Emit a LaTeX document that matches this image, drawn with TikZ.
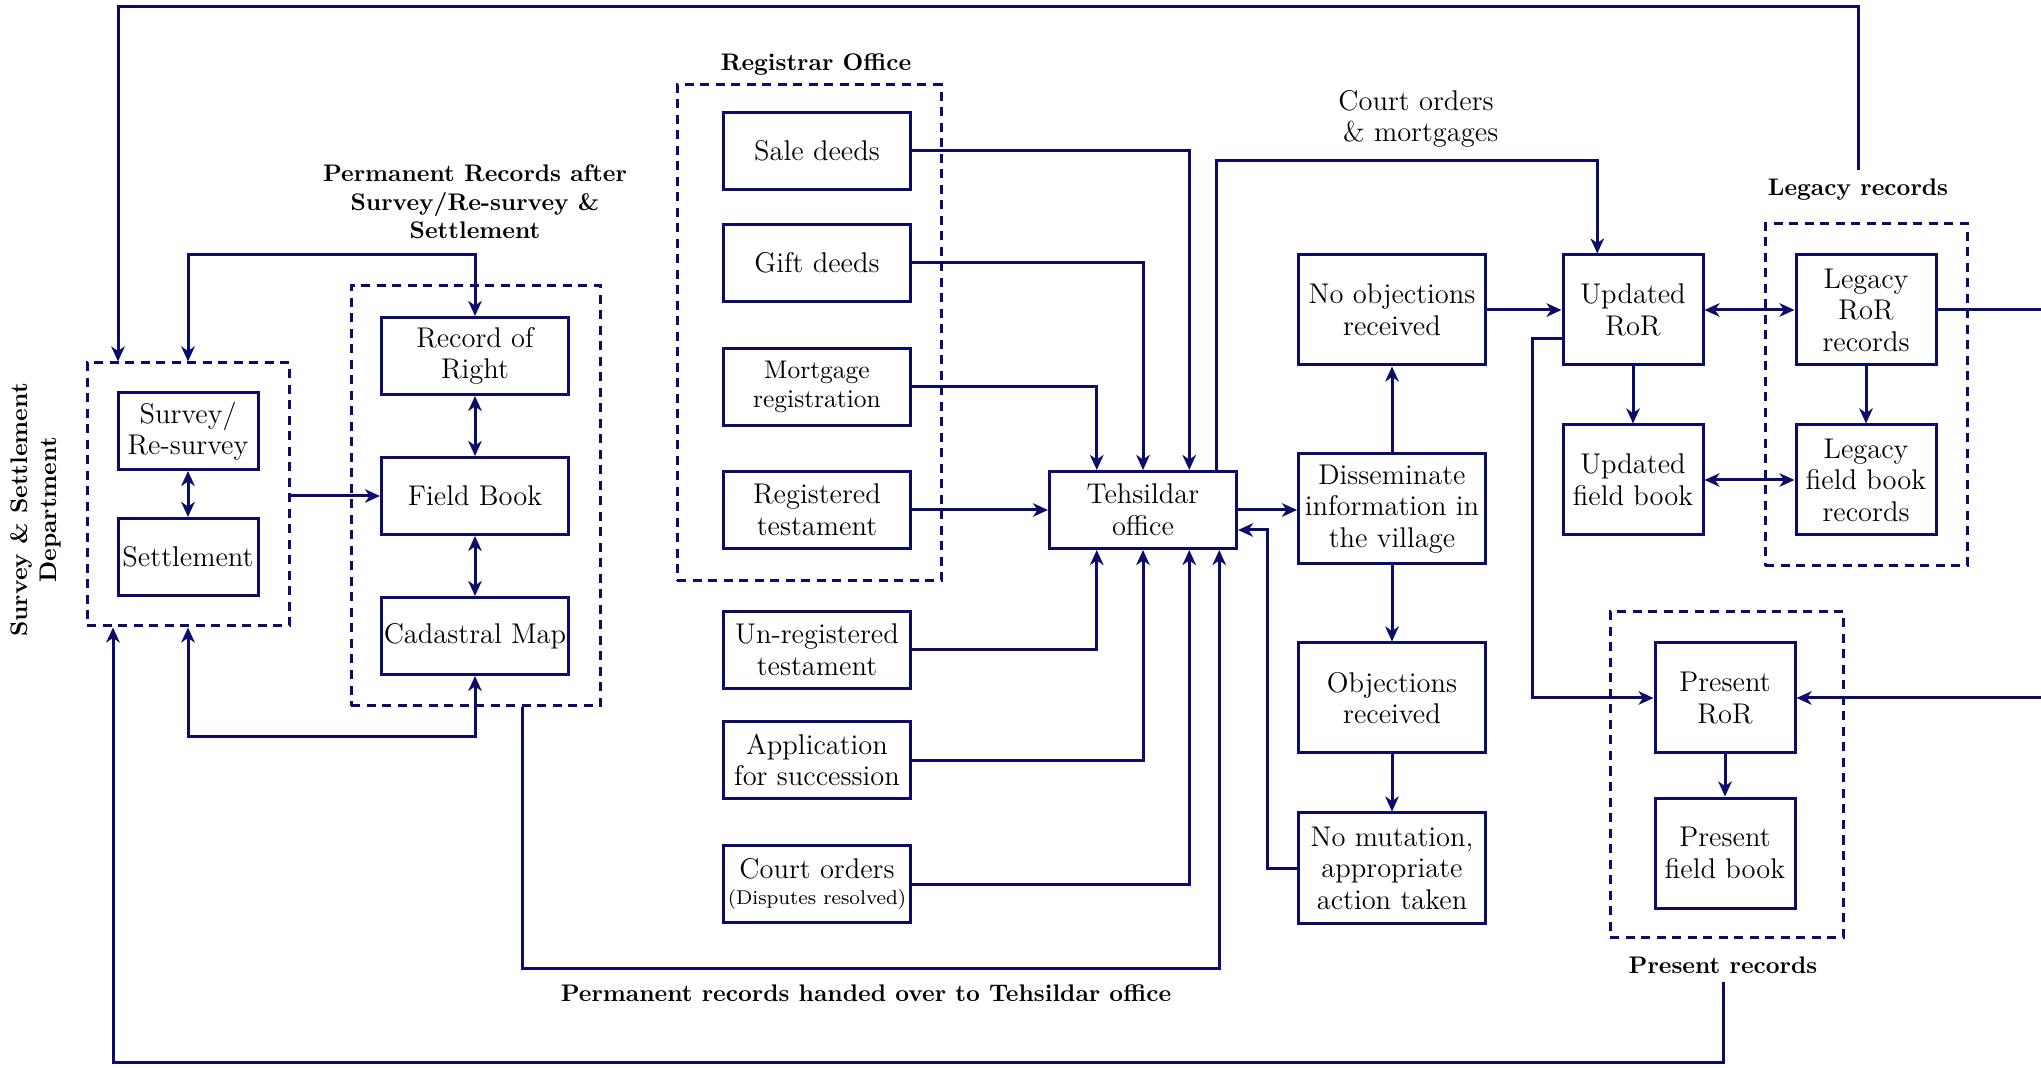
\documentclass[tikz,border=0pt]{standalone}
\usepackage{tikz}
\usetikzlibrary{arrows.meta,positioning}
\definecolor{navyline}{RGB}{12,12,108}

\begin{document}
\begin{tikzpicture}[x=40pt,y=-40pt,
	box/.style={draw=navyline,line width=1.2pt,fill=white,align=center,inner sep=1pt,
		minimum width=74.8pt,minimum height=30.8pt,font=\fontsize{11.4}{12.6}\selectfont},
	nbox/.style={box,minimum width=56pt},
	tbox/.style={box,minimum height=44pt},
	ntbox/.style={box,minimum width=56pt,minimum height=44pt},
	grp/.style={draw=navyline,line width=1.2pt,dash pattern=on 3.6pt off 2.6pt,inner sep=0pt},
	lab/.style={font=\fontsize{9.6}{11.4}\selectfont\bfseries,align=center},
	arr/.style={draw=navyline,line width=1.2pt,-{Stealth[length=6pt,width=5.4pt,inset=1.8pt]}},
	darr/.style={draw=navyline,line width=1.2pt,{Stealth[length=6pt,width=5.4pt,inset=1.8pt]}-{Stealth[length=6pt,width=5.4pt,inset=1.8pt]}}]
			%%%%% START %%%%%
			\useasboundingbox (0,0) rectangle (20.41,10.68);
			
			% survey & settlement department
			\node[grp,minimum width=80.8pt,minimum height=105.2pt] (survbox) at (1.88,4.945) {};
			\node[nbox] (survey) at (1.88,4.31) {Survey/\\Re-survey};
			\node[nbox] (settle) at (1.88,5.57) {Settlement};
			\node[lab,rotate=90] (dept) at (0.36,5.10) {Survey \& Settlement\\Department};
			
			% permanent records
			\node[grp,minimum width=99.6pt,minimum height=168pt] (permbox) at (4.755,4.96) {};
			\node[box] (ror) at (4.75,3.56) {Record of\\Right};
			\node[box] (fbook) at (4.75,4.96) {Field Book};
			\node[box] (cadmap) at (4.75,6.36) {Cadastral Map};
			\node[lab] (permlab) at (4.75,2.02) {Permanent Records after\\Survey/Re-survey \&\\Settlement};
			
			% registrar office
			\node[grp,minimum width=105.6pt,minimum height=198.4pt] (regbox) at (8.09,3.33) {};
			\node[lab] (reglab) at (8.16,0.65) {Registrar Office};
			\node[box] (sale) at (8.17,1.51) {Sale deeds};
			\node[box] (gift) at (8.17,2.63) {Gift deeds};
			\node[box,font=\fontsize{10.2}{11.6}\selectfont] (mortg) at (8.17,3.87) {Mortgage\\registration};
			\node[box] (regtest) at (8.17,5.10) {Registered\\testament};
			\node[box] (unreg) at (8.17,6.50) {Un-registered\\testament};
			\node[box] (appl) at (8.17,7.60) {Application\\for succession};
			\node[box] (court) at (8.17,8.84) {Court orders\\[-2pt]{\fontsize{8}{9}\selectfont(Disputes resolved)}};
			
			\node[box] (tehsil) at (11.43,5.10) {Tehsildar\\office};
			\node[lab] (handlab) at (8.66,9.93) {Permanent records handed over to Tehsildar office};
			
			% mutation
			\node[tbox] (dissem) at (13.92,5.09) {Disseminate\\information in\\the village};
			\node[tbox] (noobj) at (13.92,3.10) {No objections\\received};
			\node[tbox] (obj) at (13.92,6.98) {Objections\\received};
			\node[tbox] (nomut) at (13.92,8.68) {No mutation,\\appropriate\\action taken};
			\node[font=\fontsize{11.4}{12.6}\selectfont,align=center] (courtlab) at (14.16,1.19) {Court orders\\\ \& mortgages};
			
			\node[ntbox] (updror) at (16.33,3.10) {Updated\\RoR};
			\node[ntbox] (updfb) at (16.33,4.80) {Updated\\field book};
			
			% legacy records
			\node[grp,minimum width=80.8pt,minimum height=136.8pt] (legbox) at (18.66,3.95) {};
			\node[lab] (leglab) at (18.58,1.90) {Legacy records};
			\node[ntbox] (legror) at (18.66,3.10) {Legacy\\RoR\\records};
			\node[ntbox] (legfb) at (18.66,4.80) {Legacy\\field book\\records};
			
			% present records
			\node[grp,minimum width=93.2pt,minimum height=130pt] (presbox) at (17.265,7.745) {};
			\node[lab] (preslab) at (17.23,9.65) {Present records};
			\node[ntbox] (presror) at (17.25,6.98) {Present\\RoR};
			\node[ntbox] (presfb) at (17.25,8.53) {Present\\field book};
			
			% connectors
			\draw[darr] (survey) -- (settle);
			\draw[arr] (survbox.east |- fbook.west) -- (fbook.west);
			\draw[darr] (ror) -- (fbook);
			\draw[darr] (fbook) -- (cadmap);
			\draw[darr] (survbox.north) |- (ror.north |- 0,2.55) -- (ror.north);
			\draw[darr] (survbox.south) |- (cadmap.south |- 0,7.37) -- (cadmap.south);
			\draw[arr] (leglab.north) |- (1.18,0.07) -- (1.18,0 |- survbox.north);
			\draw[arr] (preslab.south) |- (1.13,10.62) -- (1.13,0 |- survbox.south);
			
			\draw[arr] (sale.east) -| ([xshift=18.5pt]tehsil.north);
			\draw[arr] (gift.east) -| (tehsil.north);
			\draw[arr] (mortg.east) -| ([xshift=-18.5pt]tehsil.north);
			\draw[arr] (regtest.east) -- (tehsil.west);
			\draw[arr] (unreg.east) -| ([xshift=-18.5pt]tehsil.south);
			\draw[arr] (appl.east) -| (tehsil.south);
			\draw[arr] (court.east) -| ([xshift=18.5pt]tehsil.south);
			\coordinate (tin) at ([xshift=30.5pt]tehsil.south);
			\draw[arr] (5.22,0 |- permbox.south) |- (tin |- 0,9.68) -- (tin);
			
			\coordinate (tout) at ([xshift=29.5pt]tehsil.north);
			\coordinate (uin) at ([xshift=-14.3pt]updror.north);
			\draw[arr] (tout) |- (uin |- 0,1.61) -- (uin);
			\draw[arr] (tehsil.east) -- (tehsil.east -| dissem.west);
			\coordinate (tback) at ([yshift=-8pt]tehsil.east);
			\draw[arr] (nomut.west) -| (12.67,0 |- tback) -- (tback);
			\draw[arr] (dissem) -- (noobj);
			\draw[arr] (dissem) -- (obj);
			\draw[arr] (obj) -- (nomut);
			\draw[arr] (noobj.east) -- (updror.west);
			
			\draw[arr] (updror) -- (updfb);
			\draw[arr] (legror) -- (legfb);
			\draw[darr] (updror.east) -- (legror.west);
			\draw[darr] (updfb.east) -- (legfb.west);
			\coordinate (uout) at ([yshift=-11.5pt]updror.west);
			\draw[arr] (uout) -- (15.32,0 |- uout) |- (presror.west);
			\draw[arr] (presror) -- (presfb);
			\coordinate (redge1) at (20.41,3.10);
			\coordinate (redge2) at (20.41,6.98);
			\draw[draw=navyline,line width=1.2pt] (legror.east) -- (redge1);
			\draw[arr] (redge2) -- (presror.east);
			%%%%% END %%%%%
\end{tikzpicture}
\end{document}
